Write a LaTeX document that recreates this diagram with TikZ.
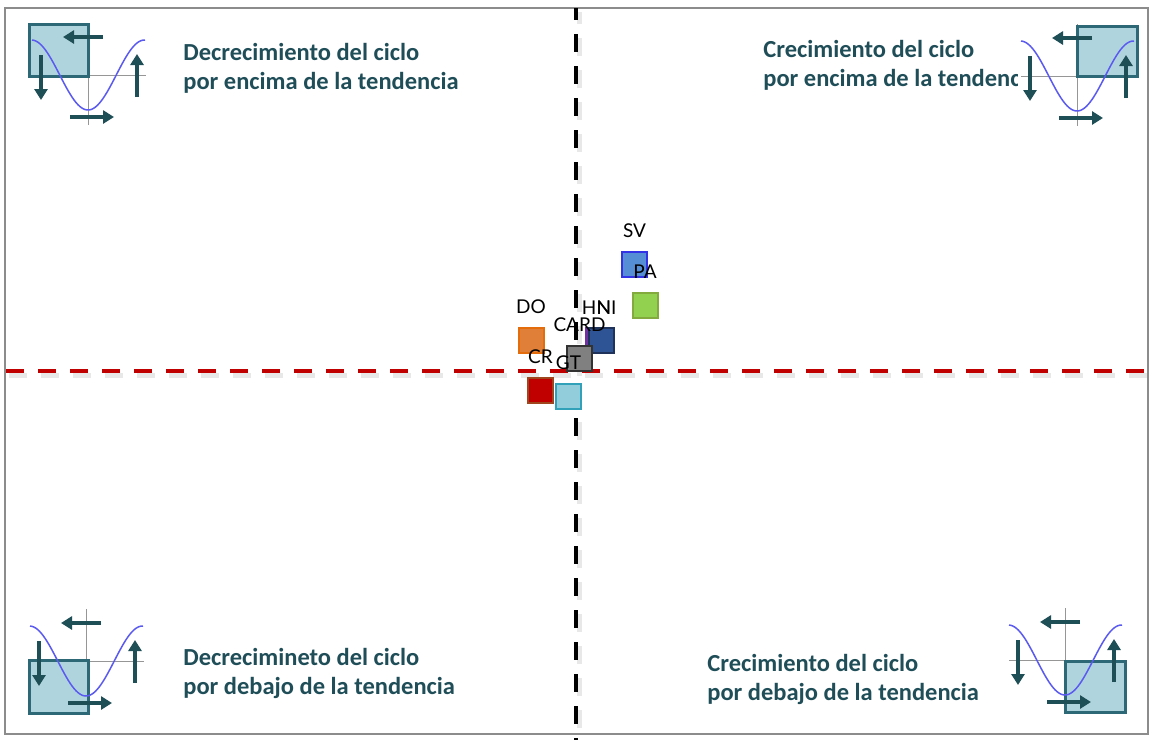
\documentclass[tikz,border=0pt]{standalone}
\usepackage{fontspec}
\usepackage{tikz}
\usetikzlibrary{arrows,arrows.meta,positioning}
\newfontfamily\quadfont{Carlito}
\newfontfamily\labfont{Lato}
\definecolor{cyc_text}{RGB}{31, 78, 89}
\definecolor{cyc_box}{RGB}{176, 212, 221}
\definecolor{cyc_edge}{RGB}{44, 104, 118}
\definecolor{cyc_arrow}{RGB}{30, 78, 86}
\definecolor{cyc_wave}{RGB}{90, 90, 240}
\definecolor{cyc_axis}{RGB}{150, 150, 150}
\definecolor{ax_red}{RGB}{192, 0, 0}
\tikzstyle{quad}=[font=\quadfont\bfseries\fontsize{12.25}{14.5}\selectfont,
  text=cyc_text,align=left,inner sep=0pt]
\tikzstyle{lbl}=[font=\labfont\fontsize{9.5}{11}\selectfont,inner sep=0pt]
\tikzstyle{sq}=[rectangle,minimum size=12.5pt,inner sep=0pt,line width=1pt]
\tikzstyle{icon_box}=[fill=cyc_box,draw=cyc_edge,line width=1.5pt]
\tikzstyle{icon_arrow}=[-{Triangle[length=5.5pt,width=6.5pt]},draw=cyc_arrow,fill=cyc_arrow,line width=2pt]
\tikzstyle{icon_wave}=[draw=cyc_wave,line width=0.75pt]
\tikzstyle{icon_axis}=[draw=cyc_axis,line width=0.5pt]
\tikzstyle{dash_line}=[line width=2pt,dash pattern=on 9pt off 7pt]
\tikzstyle{dash_shadow}=[line width=2.5pt,dash pattern=on 9pt off 7pt,black!9]
\newcommand{\cycleicon}[4]{%
  \begin{scope}[shift={(#1,#2)}]
    \draw [style=icon_axis] (-56,0) -- (58,0);
    \draw [style=icon_axis] (0,-52) -- (0,50);
    \draw [style=icon_box] #3 rectangle #4;
    \draw [style=icon_wave] plot[domain=-56:57,samples=60] (\x,{35*cos(180*\x/56.5)});
    \draw [style=icon_arrow] (15,-38) -- (-25,-38);
    \draw [style=icon_arrow] (-47,-20) -- (-47,25);
    \draw [style=icon_arrow] (49,22) -- (49,-21);
    \draw [style=icon_arrow] (-18,42) -- (26,42);
  \end{scope}}

\begin{document}
\begin{tikzpicture}[x=0.5pt,y=-0.5pt]
  \fill [white] (0,0) rectangle (1152,740);
  \useasboundingbox (0,0) rectangle (1152,740);
  \draw [draw={rgb,255:red,140;green,140;blue,140},line width=0.75pt] (5,8) rectangle (1148,734);

  % axes
  \draw [style=dash_shadow,dash phase=3pt] (579,12) -- (579,740);
  \draw [style=dash_shadow] (9,375) -- (1152,375);
  \draw [style=dash_line,black,dash phase=3pt] (576,8) -- (576,740);
  \draw [style=dash_line,ax_red] (6,371) -- (1152,371);

  % countries
  \node [style=sq,fill={rgb,255:red,85;green,142;blue,213},draw={rgb,255:red,51;green,51;blue,230}] (sv) at (634.5,264) {};
  \node [style=sq,fill={rgb,255:red,146;green,208;blue,80},draw={rgb,255:red,130;green,170;blue,60}] (pa) at (645,305) {};
  \node [style=sq,fill={rgb,255:red,224;green,128;blue,56},draw={rgb,255:red,228;green,108;blue,10}] (do) at (531,340) {};
  \node [style=sq,fill={rgb,255:red,112;green,48;blue,160},draw={rgb,255:red,112;green,48;blue,160}] (hn) at (598.5,340.5) {};
  \node [style=sq,fill={rgb,255:red,46;green,84;blue,150},draw={rgb,255:red,31;green,50;blue,90}] (ni) at (601.5,340.5) {};
  \node [style=sq,fill={rgb,255:red,128;green,128;blue,128},draw={rgb,255:red,50;green,50;blue,50}] (card) at (579.5,358.5) {};
  \node [style=sq,fill={rgb,255:red,192;green,0;blue,0},draw={rgb,255:red,160;green,70;blue,30}] (cr) at (540.5,390.5) {};
  \node [style=sq,fill={rgb,255:red,146;green,205;blue,220},draw={rgb,255:red,49;green,160;blue,185}] (gt) at (568.5,396.5) {};
  \node [style=lbl,above=6.25pt of sv] (sv_l) {SV};
  \node [style=lbl,above=6.25pt of pa] (pa_l) {PA};
  \node [style=lbl,above=6.25pt of do] (do_l) {DO};
  \node [style=lbl,above=6.25pt of hn,xshift=-1pt] (hn_l) {HN};
  \node [style=lbl,above=6.25pt of ni,xshift=2.5pt] (ni_l) {NI};
  \node [style=lbl,above=6.25pt of card] (card_l) {CARD};
  \node [style=lbl,above=6.25pt of cr] (cr_l) {CR};
  \node [style=lbl,above=6.25pt of gt] (gt_l) {GT};

  % quadrants
  \node [style=quad,anchor=base west] (tl) at (183,89) {Decrecimiento del ciclo\\por encima de la tendencia};
  \node [style=quad,anchor=base west] (tr) at (763,86) {Crecimiento del ciclo\\por encima de la tendencia};
  \node [style=quad,anchor=base west] (bl) at (183,694) {Decrecimineto del ciclo\\por debajo de la tendencia};
  \node [style=quad,anchor=base west] (br) at (707,700) {Crecimiento del ciclo\\por debajo de la tendencia};

  \fill [white] (1018,16) rectangle (1142,132);
  \cycleicon{88}{75}{(-59,-51)}{(0,1)}
  \cycleicon{1077}{76}{(0,-50)}{(60,0)}
  \cycleicon{86}{661}{(-57,-1)}{(2,52)}
  \cycleicon{1065}{660}{(0,1)}{(60,52)}
\end{tikzpicture}
\end{document}
